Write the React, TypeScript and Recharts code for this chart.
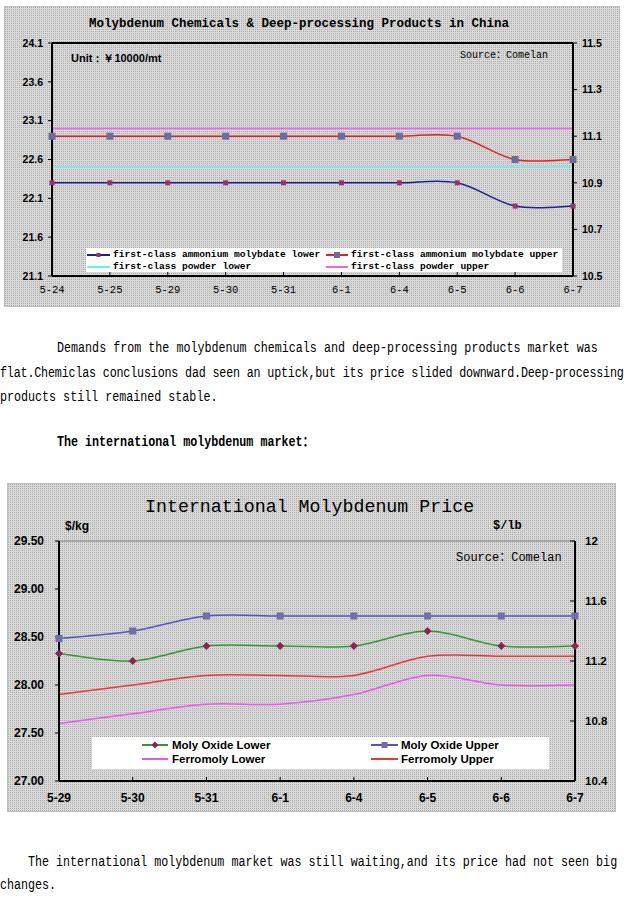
import { Line, LineChart, ReferenceLine, XAxis, YAxis } from "recharts";

const MONO = '"Liberation Mono", "Noto Sans CJK SC", monospace';
const SANS = '"Liberation Sans", Arial, sans-serif';
const PATTERN = {
  backgroundColor: "#cdcdcd",
  backgroundImage:
    "url(\"data:image/svg+xml;utf8,<svg xmlns='http://www.w3.org/2000/svg' width='2' height='2'><rect width='2' height='2' fill='%23d9d9d9'/><rect width='1' height='1' fill='%23ababab'/></svg>\")",
  backgroundSize: "2px 2px",
};

// chart 1: China, ammonium molybdate on the right axis, powder on the left
const chinaDates = ["5-24", "5-25", "5-29", "5-30", "5-31", "6-1", "6-4", "6-5", "6-6", "6-7"];
const ammoniumLower = [10.9, 10.9, 10.9, 10.9, 10.9, 10.9, 10.9, 10.9, 10.8, 10.8];
const ammoniumUpper = [11.1, 11.1, 11.1, 11.1, 11.1, 11.1, 11.1, 11.1, 11.0, 11.0];
const powderLower = [22.5, 22.5, 22.5, 22.5, 22.5, 22.5, 22.5, 22.5, 22.5, 22.5];
const powderUpper = [23.0, 23.0, 23.0, 23.0, 23.0, 23.0, 23.0, 23.0, 23.0, 23.0];
const chinaLeftTicks = [21.1, 21.6, 22.1, 22.6, 23.1, 23.6, 24.1];
const chinaRightTicks = [10.5, 10.7, 10.9, 11.1, 11.3, 11.5];

// chart 2: international, ferromoly in $/kg (left), moly oxide in $/lb (right)
const intlDates = ["5-29", "5-30", "5-31", "6-1", "6-4", "6-5", "6-6", "6-7"];
const oxideLower = [11.25, 11.2, 11.3, 11.3, 11.3, 11.4, 11.3, 11.3];
const oxideUpper = [11.35, 11.4, 11.5, 11.5, 11.5, 11.5, 11.5, 11.5];
const ferroLower = [27.6, 27.7, 27.8, 27.8, 27.9, 28.1, 28.0, 28.0];
const ferroUpper = [27.9, 28.0, 28.1, 28.1, 28.1, 28.3, 28.3, 28.3];
const intlLeftTicks = [27, 27.5, 28, 28.5, 29, 29.5];
const intlRightTicks = [10.4, 10.8, 11.2, 11.6, 12];

const chinaData = chinaDates.map((date, i) => ({
  date,
  ammoniumLower: ammoniumLower[i],
  ammoniumUpper: ammoniumUpper[i],
  powderLower: powderLower[i],
  powderUpper: powderUpper[i],
}));

const intlData = intlDates.map((date, i) => ({
  date,
  oxideLower: oxideLower[i],
  oxideUpper: oxideUpper[i],
  ferroLower: ferroLower[i],
  ferroUpper: ferroUpper[i],
}));

type Series = {
  key: string;
  name: string;
  color: string;
  axis: "left" | "right";
  marker?: "square" | "diamond";
  markerColor?: string;
  markerSize?: number;
};

const chinaSeries: Series[] = [
  { key: "ammoniumLower", name: "first-class ammonium molybdate lower", color: "#1e1e9a", axis: "right", marker: "square", markerColor: "#993366", markerSize: 5 },
  { key: "ammoniumUpper", name: "first-class ammonium molybdate upper", color: "#e02222", axis: "right", marker: "square", markerColor: "#6c6c9e", markerSize: 7 },
  { key: "powderLower", name: "first-class powder lower", color: "#66eeee", axis: "left" },
  { key: "powderUpper", name: "first-class powder upper", color: "#ee66ee", axis: "left" },
];

const intlSeries: Series[] = [
  { key: "oxideLower", name: "Moly Oxide Lower", color: "#339933", axis: "right", marker: "diamond", markerColor: "#8b2252", markerSize: 8 },
  { key: "oxideUpper", name: "Moly Oxide Upper", color: "#5555c0", axis: "right", marker: "square", markerColor: "#7070a8", markerSize: 7 },
  { key: "ferroLower", name: "Ferromoly Lower", color: "#ee55ee", axis: "left" },
  { key: "ferroUpper", name: "Ferromoly Upper", color: "#e83a3a", axis: "left" },
];

// Excel-like smoothed line (Catmull-Rom through the points, so it overshoots a little)
function excelSmooth(context: any) {
  let pts: number[][] = [];
  return {
    areaStart() {},
    areaEnd() {},
    lineStart() {
      pts = [];
    },
    lineEnd() {
      const n = pts.length;
      if (!n) return;
      context.moveTo(pts[0][0], pts[0][1]);
      if (n === 1) {
        context.lineTo(pts[0][0], pts[0][1]);
        return;
      }
      for (let i = 0; i < n - 1; i++) {
        const p0 = pts[Math.max(i - 1, 0)];
        const p1 = pts[i];
        const p2 = pts[i + 1];
        const p3 = pts[Math.min(i + 2, n - 1)];
        context.bezierCurveTo(
          p1[0] + (p2[0] - p0[0]) / 6,
          p1[1] + (p2[1] - p0[1]) / 6,
          p2[0] - (p3[0] - p1[0]) / 6,
          p2[1] - (p3[1] - p1[1]) / 6,
          p2[0],
          p2[1]
        );
      }
    },
    point(x: number, y: number) {
      pts.push([+x, +y]);
    },
  };
}

function Marker({ kind, x, y, size, fill }: { kind?: string; x: number; y: number; size: number; fill: string }) {
  const h = size / 2;
  if (kind === "diamond") {
    return <polygon points={`${x},${y - h} ${x + h},${y} ${x},${y + h} ${x - h},${y}`} fill={fill} />;
  }
  return <rect x={x - h} y={y - h} width={size} height={size} fill={fill} />;
}

function dotFor(s: Series) {
  if (!s.marker) return false;
  return (p: any) => (
    <g key={`${s.key}-${p.index}`}>
      {p.cx != null && <Marker kind={s.marker} x={p.cx} y={p.cy} size={s.markerSize || 6} fill={s.markerColor || s.color} />}
    </g>
  );
}

function LegendKey({ s, x, y, sampleW, textX, font }: { s: Series; x: number; y: number; sampleW: number; textX: number; font: any }) {
  return (
    <>
      <svg width={sampleW} height={10} style={{ position: "absolute", left: x, top: y - 5 }}>
        <line x1={0} y1={5} x2={sampleW} y2={5} stroke={s.color} strokeWidth={2} />
        {s.marker && <Marker kind={s.marker} x={sampleW / 2} y={5} size={(s.markerSize || 6) - 1} fill={s.markerColor || s.color} />}
      </svg>
      <div style={{ position: "absolute", left: textX, top: y - 7, lineHeight: "14px", whiteSpace: "nowrap", ...font }}>{s.name}</div>
    </>
  );
}

function abs(left: number, top: number, extra: any = {}) {
  return { position: "absolute" as const, left, top, whiteSpace: "nowrap" as const, ...extra };
}

function ChinaChart() {
  const legendFont = { fontFamily: MONO, fontSize: 9.6, color: "#000", fontWeight: 700 };
  return (
    <div style={{ position: "absolute", left: 4, top: 6, width: 616, height: 301, boxSizing: "border-box", border: "1px solid #c0c0c0", ...PATTERN }}>
      <LineChart width={614} height={299} data={chinaData} margin={{ top: 36, right: 0, bottom: 0, left: 0 }}>
        <XAxis
          dataKey="date"
          interval={0}
          height={30}
          tickSize={-4}
          tickMargin={14}
          axisLine={{ stroke: "#000", strokeWidth: 2 }}
          tickLine={{ stroke: "#000" }}
          tick={{ fill: "#000", fontSize: 10.5, fontFamily: MONO }}
        />
        <YAxis
          yAxisId="left"
          width={47}
          domain={[21.1, 24.1]}
          ticks={chinaLeftTicks}
          interval={0}
          tickSize={4}
          tickMargin={5}
          tickFormatter={(v: number) => v.toFixed(1)}
          axisLine={{ stroke: "#000", strokeWidth: 2 }}
          tickLine={{ stroke: "#000" }}
          tick={{ fill: "#000", fontSize: 10.5, fontFamily: SANS, fontWeight: 700 }}
        />
        <YAxis
          yAxisId="right"
          orientation="right"
          width={46}
          domain={[10.5, 11.5]}
          ticks={chinaRightTicks}
          interval={0}
          tickSize={4}
          tickMargin={5}
          tickFormatter={(v: number) => v.toFixed(1)}
          axisLine={{ stroke: "#000", strokeWidth: 2 }}
          tickLine={{ stroke: "#000" }}
          tick={{ fill: "#000", fontSize: 10.5, fontFamily: SANS, fontWeight: 700 }}
        />
        <ReferenceLine yAxisId="left" y={24.1} stroke="#000" strokeWidth={2} />
        {chinaSeries.map((s) => (
          <Line
            key={s.key}
            yAxisId={s.axis}
            dataKey={s.key}
            name={s.name}
            type={excelSmooth as any}
            stroke={s.color}
            strokeWidth={1.5}
            dot={dotFor(s) as any}
            activeDot={false}
            isAnimationActive={false}
          />
        ))}
      </LineChart>
      <div style={abs(84, 9, { fontFamily: MONO, fontSize: 12.5, fontWeight: 700, lineHeight: "16px", letterSpacing: 0 })}>
        Molybdenum Chemicals &amp; Deep-processing Products in China
      </div>
      <div style={abs(66, 44, { fontFamily: SANS, fontSize: 11, fontWeight: 700, lineHeight: "14px" })}>Unit：￥10000/mt</div>
      <div style={abs(455, 42, { fontFamily: MONO, fontSize: 10, lineHeight: "14px" })}>Source：Comelan</div>
      <div style={{ position: "absolute", left: 81, top: 241, width: 476, height: 24, background: "#fff" }}>
        <LegendKey s={chinaSeries[0]} x={1} y={7} sampleW={23} textX={27} font={legendFont} />
        <LegendKey s={chinaSeries[1]} x={240} y={7} sampleW={22} textX={265} font={legendFont} />
        <LegendKey s={chinaSeries[2]} x={1} y={19} sampleW={23} textX={27} font={legendFont} />
        <LegendKey s={chinaSeries[3]} x={240} y={19} sampleW={22} textX={265} font={legendFont} />
      </div>
    </div>
  );
}

function IntlChart() {
  const legendFont = { fontFamily: SANS, fontSize: 11.5, color: "#000", fontWeight: 700 };
  return (
    <div style={{ position: "absolute", left: 7, top: 483, width: 609, height: 329, boxSizing: "border-box", border: "1px solid #c0c0c0", ...PATTERN }}>
      <LineChart width={607} height={327} data={intlData} margin={{ top: 57, right: 0, bottom: 0, left: 0 }}>
        <XAxis
          dataKey="date"
          interval={0}
          height={30}
          tickSize={-4}
          tickMargin={16}
          axisLine={{ stroke: "#000", strokeWidth: 2 }}
          tickLine={{ stroke: "#000" }}
          tick={{ fill: "#000", fontSize: 12, fontFamily: SANS, fontWeight: 700 }}
        />
        <YAxis
          yAxisId="left"
          width={51}
          domain={[27, 29.5]}
          ticks={intlLeftTicks}
          interval={0}
          tickSize={4}
          tickMargin={11}
          tickFormatter={(v: number) => v.toFixed(2)}
          axisLine={{ stroke: "#000", strokeWidth: 2 }}
          tickLine={{ stroke: "#000" }}
          tick={{ fill: "#000", fontSize: 12, fontFamily: SANS, fontWeight: 700 }}
        />
        <YAxis
          yAxisId="right"
          orientation="right"
          width={40}
          domain={[10.4, 12]}
          ticks={intlRightTicks}
          interval={0}
          tickSize={-5}
          tickMargin={15}
          tickFormatter={(v: number) => String(v)}
          axisLine={{ stroke: "#000", strokeWidth: 2 }}
          tickLine={{ stroke: "#000" }}
          tick={{ fill: "#000", fontSize: 11.5, fontFamily: SANS, fontWeight: 700 }}
        />
        <ReferenceLine yAxisId="left" y={29.5} stroke="#808080" strokeWidth={1} />
        {intlSeries.map((s) => (
          <Line
            key={s.key}
            yAxisId={s.axis}
            dataKey={s.key}
            name={s.name}
            type={excelSmooth as any}
            stroke={s.color}
            strokeWidth={1.5}
            dot={dotFor(s) as any}
            activeDot={false}
            isAnimationActive={false}
          />
        ))}
      </LineChart>
      <div style={abs(137, 12, { fontFamily: MONO, fontSize: 18.3, lineHeight: "22px" })}>International Molybdenum Price</div>
      <div style={abs(57, 35, { fontFamily: SANS, fontSize: 12, fontWeight: 700, lineHeight: "14px" })}>$/kg</div>
      <div style={abs(485, 35, { fontFamily: MONO, fontSize: 12, fontWeight: 700, lineHeight: "14px" })}>$/lb</div>
      <div style={abs(448, 67, { fontFamily: MONO, fontSize: 12, lineHeight: "14px" })}>Source：Comelan</div>
      <div style={{ position: "absolute", left: 84, top: 253, width: 457, height: 32, background: "#fff" }}>
        <LegendKey s={intlSeries[0]} x={50} y={8} sampleW={26} textX={80} font={legendFont} />
        <LegendKey s={intlSeries[1]} x={279} y={8} sampleW={27} textX={309} font={legendFont} />
        <LegendKey s={intlSeries[2]} x={50} y={22} sampleW={26} textX={80} font={legendFont} />
        <LegendKey s={intlSeries[3]} x={279} y={22} sampleW={27} textX={309} font={legendFont} />
      </div>
    </div>
  );
}

function TextLine({ x, y, children, spacing = 0, bold = false }: { x: number; y: number; children: any; spacing?: number; bold?: boolean }) {
  return (
    <div
      style={abs(x, y - 8, {
        fontFamily: MONO,
        fontSize: 11.7,
        lineHeight: "16px",
        letterSpacing: spacing,
        fontWeight: bold ? 700 : 400,
        color: "#000",
        transform: "scaleY(1.2)",
        transformOrigin: "left center",
      })}
    >
      {children}
    </div>
  );
}

export default function App() {
  return (
    <div style={{ position: "absolute", left: 0, top: 0, width: 624, height: 915, background: "#fff", overflow: "hidden" }}>
      <ChinaChart />
      <TextLine x={57} y={348} spacing={0.01}>
        Demands from the molybdenum chemicals and deep-processing products market was
      </TextLine>
      <TextLine x={0} y={373} spacing={-0.16}>
        flat.Chemiclas conclusions dad seen an uptick,but its price slided downward.Deep-processing
      </TextLine>
      <TextLine x={0} y={397}>products still remained stable.</TextLine>
      <TextLine x={57} y={442} bold>The international molybdenum market：</TextLine>
      <IntlChart />
      <TextLine x={28} y={862}>
        The international molybdenum market was still waiting,and its price had not seen big
      </TextLine>
      <TextLine x={0} y={885}>changes.</TextLine>
    </div>
  );
}
